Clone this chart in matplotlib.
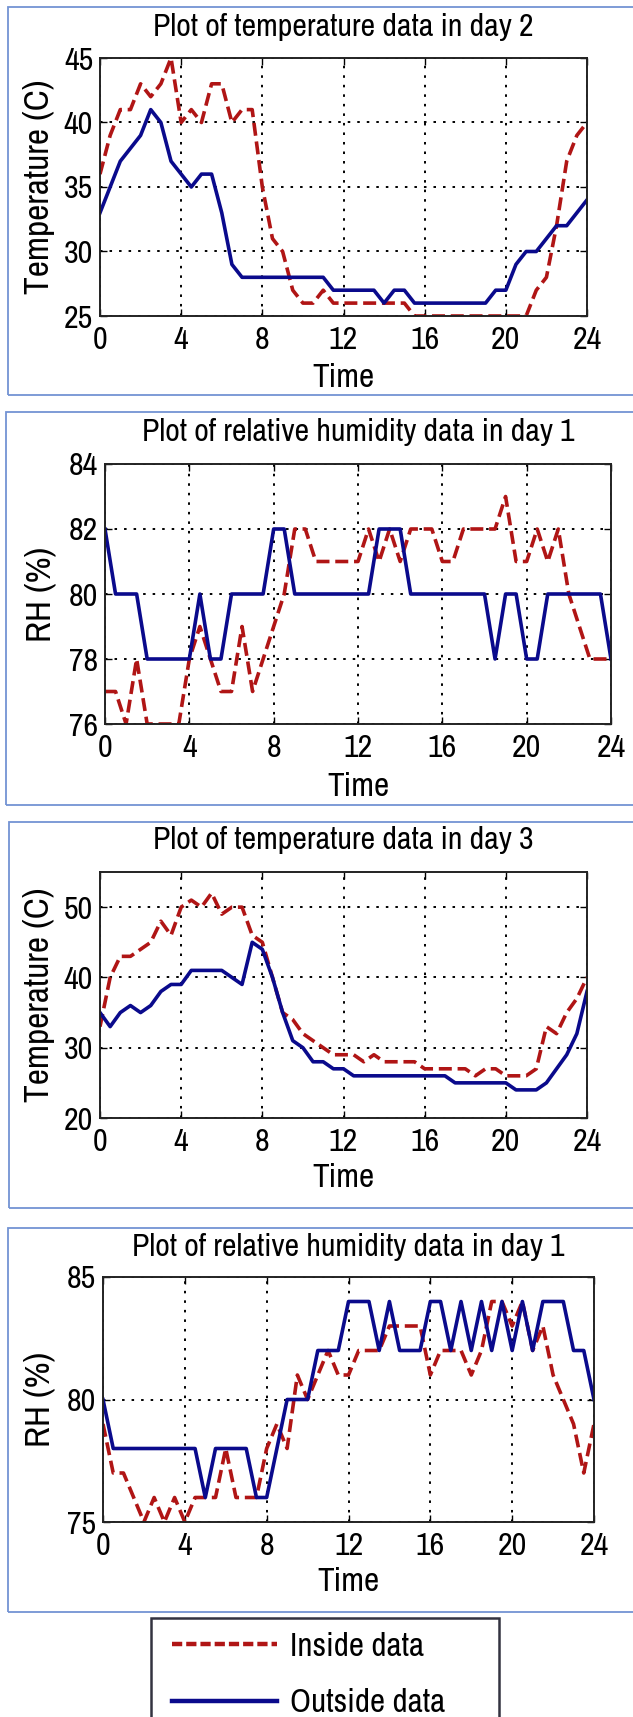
import matplotlib
matplotlib.use('Agg')
import matplotlib.pyplot as plt
from matplotlib import font_manager
from matplotlib.lines import Line2D
from matplotlib.patches import Rectangle

# ---------------- data ----------------
hours = [i * 0.5 for i in range(49)]

temp_day2_inside = [36, 39, 41, 41, 43, 42, 43, 45, 40, 41, 40, 43, 43, 40, 41, 41,
                    35, 31, 30, 27, 26, 26, 27, 26, 26, 26, 26, 26, 26, 26, 26,
                    25, 25, 25, 25, 25, 25, 25, 25, 25, 25, 25, 25,
                    27, 28, 32, 37, 39, 40]
temp_day2_outside = [33, 35, 37, 38, 39, 41, 40, 37, 36, 35, 36, 36, 33, 29, 28, 28,
                     28, 28, 28, 28, 28, 28, 28, 27, 27, 27, 27, 27, 26, 27, 27,
                     26, 26, 26, 26, 26, 26, 26, 26, 27, 27, 29, 30, 30, 31, 32,
                     32, 33, 34]

rh_a_inside = [77, 77, 76, 78, 76, 76, 76, 76, 78, 79, 78, 77, 77, 79, 77, 78,
               79, 80, 82, 82, 81, 81, 81, 81, 81, 82, 81, 82, 81, 82, 82, 82,
               81, 81, 82, 82, 82, 82, 83, 81, 81, 82, 81, 82, 80, 79, 78, 78, 78]
rh_a_outside = [82, 80, 80, 80, 78, 78, 78, 78, 78, 80, 78, 78, 80, 80, 80, 80,
                82, 82, 80, 80, 80, 80, 80, 80, 80, 80, 82, 82, 82, 80, 80, 80,
                80, 80, 80, 80, 80, 78, 80, 80, 78, 78, 80, 80, 80, 80, 80, 80, 78]

temp_day3_inside = [33, 40, 43, 43, 44, 45, 48, 46, 50, 51, 50, 52, 49, 50, 50, 46,
                    45, 40, 35, 34, 32, 31, 30, 29, 29, 29, 28, 29, 28, 28, 28, 28,
                    27, 27, 27, 27, 27, 26, 27, 27, 26, 26, 26, 27, 33, 32, 35, 37, 40]
temp_day3_outside = [35, 33, 35, 36, 35, 36, 38, 39, 39, 41, 41, 41, 41, 40, 39, 45,
                     44, 40, 35, 31, 30, 28, 28, 27, 27, 26, 26, 26, 26, 26, 26, 26,
                     26, 26, 26, 25, 25, 25, 25, 25, 25, 24, 24, 24, 25, 27, 29, 32, 38]

rh_b_inside = [79, 77, 77, 76, 75, 76, 75, 76, 75, 76, 76, 76, 78, 76, 76, 76,
               78, 79, 78, 81, 80, 81, 82, 81, 81, 82, 82, 82, 83, 83, 83, 83,
               81, 82, 82, 82, 81, 82, 84, 84, 83, 84, 82, 83, 81, 80, 79, 77, 79]
rh_b_outside = [80, 78, 78, 78, 78, 78, 78, 78, 78, 78, 76, 78, 78, 78, 78, 76,
                76, 78, 80, 80, 80, 82, 82, 82, 84, 84, 84, 82, 84, 82, 82, 82,
                84, 84, 82, 84, 82, 84, 82, 84, 82, 84, 82, 84, 84, 84, 82, 82, 80]

titles = ["Plot of temperature data in day 2",
          "Plot of relative humidity data in day 1",
          "Plot of temperature data in day 3",
          "Plot of relative humidity data in day 1"]
ylabels = ["Temperature (C)", "RH (%)", "Temperature (C)", "RH (%)"]
xlabel = "Time"
xticks = [0, 4, 8, 12, 16, 20, 24]
yticks_list = [[25, 30, 35, 40, 45], [76, 78, 80, 82, 84],
               [20, 30, 40, 50], [75, 80, 85]]
ylims = [(25, 45), (76, 84), (20, 55), (75, 85)]
inside_series = [temp_day2_inside, rh_a_inside, temp_day3_inside, rh_b_inside]
outside_series = [temp_day2_outside, rh_a_outside, temp_day3_outside, rh_b_outside]
legend_labels = ["Inside data", "Outside data"]

# ---------------- font ----------------
names = {f.name for f in font_manager.fontManager.ttflist}
FONT = 'DejaVu Sans'
for cand in ['Liberation Sans Narrow', 'Arial Narrow', 'Archivo Narrow',
             'PT Sans Narrow', 'Roboto Condensed', 'Liberation Sans', 'Arimo']:
    if cand in names:
        FONT = cand
        break
plt.rcParams['font.family'] = [FONT, 'DejaVu Sans']

RED = '#B01515'
BLUE = '#0A0A8C'
BOXC = '#7393d3'

W, H = 633, 1717
fig = plt.figure(figsize=(W / 100, H / 100), dpi=100)
fig.patch.set_facecolor('white')
renderer = fig.canvas.get_renderer()


def fit_size(text, target_px, base=20.0):
    t = fig.text(0, 0, text, fontsize=base)
    w = t.get_window_extent(renderer).width
    t.remove()
    return base * target_px / w


fs_title = fit_size(titles[0], 366) * 1.04
fs_tick = fit_size("45", 26) * 1.12
fs_ylabel = fit_size(ylabels[0], 214)
fs_xlabel = fit_size(xlabel, 62)
fs_legend = fit_size(legend_labels[0], 122) * 1.1

# layout in pixel coordinates
axes_px = [(100, 587, 58, 316), (105, 611, 464, 724),
           (100, 587, 872, 1118), (103, 594, 1277, 1522)]
title_y_px = [27, 432, 840, 1247]
xlabel_y_px = [378, 787, 1178, 1582]
ylabel_x_px = [39, 41, 39, 40]
panel_boxes = [(8, 7, 640, 395), (6, 412, 640, 805),
               (9, 822, 640, 1208), (8, 1228, 640, 1612)]

for (bl, bt, br, bb) in panel_boxes:
    fig.patches.append(Rectangle((bl / W, 1 - bb / H), (br - bl) / W, (bb - bt) / H,
                                 transform=fig.transFigure, fill=False,
                                 ec=BOXC, lw=1.3, zorder=0))

for i in range(4):
    l, r, t, b = axes_px[i]
    ax = fig.add_axes([l / W, 1 - b / H, (r - l) / W, (b - t) / H])
    ax.plot(hours, inside_series[i], color=RED, lw=2.6, dashes=(3.6, 1.6),
            dash_capstyle='butt')
    ax.plot(hours, outside_series[i], color=BLUE, lw=2.6)
    ax.set_xlim(0, 24)
    ax.set_ylim(*ylims[i])
    ax.set_xticks(xticks)
    ax.set_yticks(yticks_list[i])
    ax.grid(True, color='black', linestyle=(0, (1.3, 3.6)), linewidth=1.4)
    ax.tick_params(direction='in', length=5, width=1, top=True, right=True,
                   labelsize=fs_tick, colors='black')
    ax.tick_params(axis='x', pad=7)
    ax.tick_params(axis='y', pad=5)
    for sp in ax.spines.values():
        sp.set_linewidth(1.4)
        sp.set_color('#222222')
    h = b - t
    ax.set_title(titles[i], fontsize=fs_title, y=(b - title_y_px[i]) / h, pad=0,
                 va='center')
    ax.set_xlabel(xlabel, fontsize=fs_xlabel)
    ax.xaxis.set_label_coords(0.5, (b - xlabel_y_px[i]) / h)
    ax.xaxis.label.set_va('center')
    ax.set_ylabel(ylabels[i], fontsize=fs_ylabel)
    ax.yaxis.set_label_coords((ylabel_x_px[i] - l) / (r - l), 0.5)
    ax.yaxis.label.set_va('center')

# legend
fig.patches.append(Rectangle((151 / W, 1 - 1740 / H), (499 - 151) / W, (1740 - 1618) / H,
                             transform=fig.transFigure, fill=False,
                             ec='#333340', lw=1.8, zorder=0))
h_in = Line2D([], [], color=RED, lw=3.2, dashes=(2.3, 0.9))
h_out = Line2D([], [], color=BLUE, lw=3.2)
px_per_fs = fs_legend * 100 / 72.0
fig.legend(handles=[h_in, h_out], labels=legend_labels, loc='upper left',
           bbox_to_anchor=(172 / W, 1 - 1632 / H), frameon=False, fontsize=fs_legend,
           borderpad=0, borderaxespad=0, handlelength=105 / px_per_fs,
           handletextpad=13 / px_per_fs, labelspacing=0.8)

fig.savefig('out.png', dpi=100, facecolor='white')
